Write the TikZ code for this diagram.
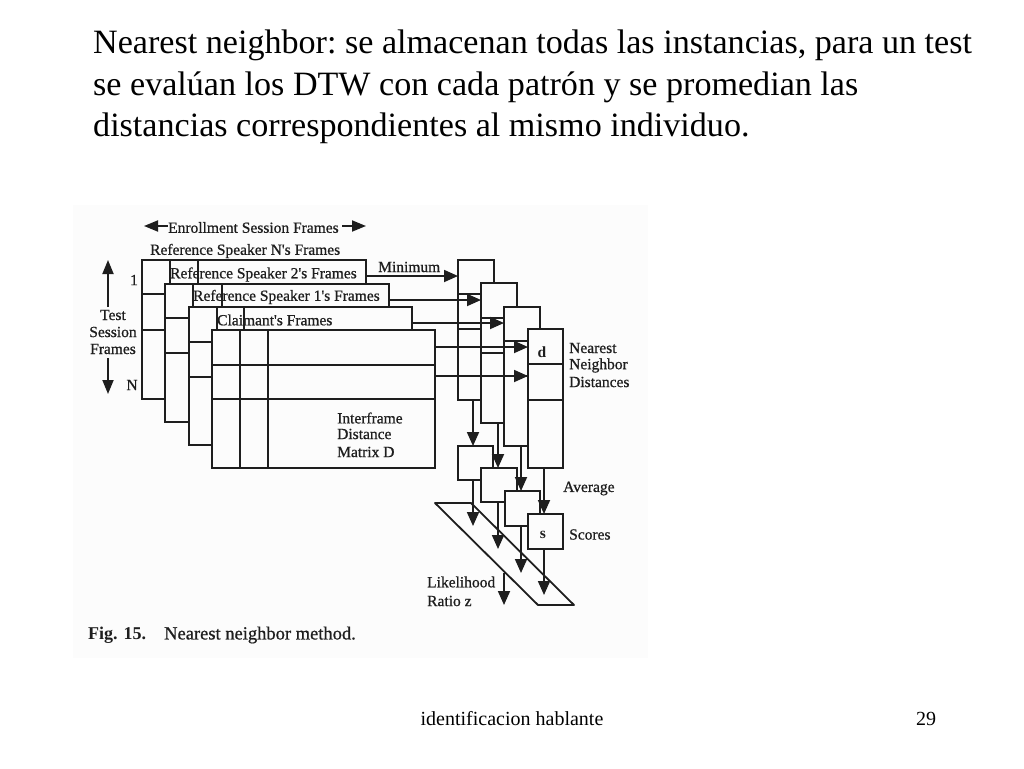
\documentclass[tikz,border=0pt]{standalone}
\usepackage{fontspec}
\setmainfont{Liberation Serif}
\newfontfamily\scanfont[FakeBold=0.8]{Liberation Serif}
\usetikzlibrary{arrows.meta,calc}
\definecolor{ink}{HTML}{1E1E1E}
\definecolor{scan}{HTML}{FCFCFC}
\tikzset{
  ln/.style={draw=ink,line width=1.8pt},
  frame/.style={ln,fill=scan,inner sep=0pt,outer sep=0pt},
  arr/.style={ln,-{Triangle[length=14pt,width=12pt]}},
  bigarr/.style={ln,-{Triangle[length=14pt,width=11pt]}},
  slide/.style={anchor=base west,inner sep=0pt,font=\fontsize{34.1}{34.1}\selectfont\frenchspacing},
  foot/.style={anchor=base,inner sep=0pt,font=\fontsize{20}{20}\selectfont},
  lab/.style={anchor=west,inner sep=0pt,text=ink,font=\fontsize{15.5}{15.5}\scanfont},
  clab/.style={lab,anchor=center},
  blab/.style={clab,font=\fontsize{15.5}{15.5}\bfseries},
}
% name, x1, y1, x2, y2
\newcommand{\mybox}[5]{\node[frame,minimum width={#4pt-#2pt},minimum height={#5pt-#3pt}] (#1) at ({(#2+#4)/2},{(#3+#5)/2}) {};}
\newcommand{\myrows}[2]{\foreach \rowy in {#2} {\draw[ln] (#1.west |- 0,\rowy) -- (#1.east |- 0,\rowy);}}
\begin{document}
\begin{tikzpicture}[x=1pt,y=-1pt]
\useasboundingbox (0,0) rectangle (1024,768);
\fill[white] (0,0) rectangle (1024,768);
\fill[scan] (73,205) rectangle (648,658);

% slide text
\node[slide] (t1) at (93,53) {Nearest neighbor: se almacenan todas las instancias, para un test};
\node[slide] (t2) at (93,95) {se evalúan los DTW con cada patrón y se promedian las};
\node[slide] (t3) at (93,136) {distancias correspondientes al mismo individuo.};
\node[foot] (f1) at (512,725) {identificacion hablante};
\node[foot] (f2) at (926,725) {29};

% matrix stack
\mybox{bN}{142}{260}{366}{399}
\myrows{bN}{294,330}
\draw[ln] (170,260) -- (170,284) (198,260) -- (198,284);
\mybox{bB}{165}{284}{389}{422}
\myrows{bB}{318,353}
\draw[ln] (193,284) -- (193,307) (222,284) -- (222,307);
\mybox{bA}{189}{307}{412}{445}
\myrows{bA}{342,377}
\draw[ln] (217,307) -- (217,330) (244,307) -- (244,330);
\mybox{bC}{212}{330}{435}{468}
\myrows{bC}{365,399}
\draw[ln] (240,330) -- (240,468) (268,330) -- (268,468);

% nearest-neighbour stack
\mybox{sA}{458}{260}{494}{400}
\myrows{sA}{294,329}
\mybox{sB}{481}{283}{517}{423}
\myrows{sB}{318,353}
\mybox{sC}{504}{307}{540}{446}
\myrows{sC}{341,376}
\mybox{sD}{528}{329}{563}{468}
\myrows{sD}{364,400}

% likelihood strip (behind the score boxes and their arrows)
\node[inner sep=0pt] (pTL) at (435,503) {};
\node[inner sep=0pt] (pTR) at (471,503) {};
\node[inner sep=0pt] (pBR) at (574,605) {};
\node[inner sep=0pt] (pBL) at (538,605) {};
\draw[ln,line join=round] (pTL.center) -- (pTR.center) -- (pBR.center) -- (pBL.center) -- cycle;

% score boxes
\mybox{aA}{458}{446}{493}{480}
\mybox{aB}{481}{468}{517}{502}
\mybox{aC}{505}{491}{540}{526}
\mybox{aD}{528}{514}{563}{549}

% horizontal arrows
\coordinate (h1) at (0,276);
\coordinate (h2) at (0,300);
\coordinate (h3) at (0,323);
\coordinate (h4) at (0,347);
\coordinate (h5) at (0,376);
\draw[arr] (bN.east |- h1) -- (sA.west |- h1);
\draw[arr] (bB.east |- h2) -- (sB.west |- h2);
\draw[arr] (bA.east |- h3) -- (sC.west |- h3);
\draw[arr] (bC.east |- h4) -- (sD.west |- h4);
\draw[arr] (bC.east |- h5) -- (sD.west |- h5);

% vertical arrows
\coordinate (v1) at (473,0);
\coordinate (v2) at (498,0);
\coordinate (v3) at (521,0);
\coordinate (v4) at (544,0);
\draw[arr] (v1 |- sA.south) -- (v1 |- aA.north);
\draw[arr] (v2 |- sB.south) -- (v2 |- aB.north);
\draw[arr] (v3 |- sC.south) -- (v3 |- aC.north);
\draw[arr] (v4 |- sD.south) -- (v4 |- aD.north);
\coordinate (e1) at (473,526);
\coordinate (e2) at (498,549);
\coordinate (e3) at (521,573);
\coordinate (e4) at (544,595);
\coordinate (s5) at (504,573);
\coordinate (e5) at (504,605);
\draw[arr] (v1 |- aA.south) -- (e1);
\draw[arr] (v2 |- aB.south) -- (e2);
\draw[arr] (v3 |- aC.south) -- (e3);
\draw[arr] (v4 |- aD.south) -- (e4);
\draw[arr] (s5) -- (e5);

% axis arrows
\coordinate (u0) at (108,307);
\coordinate (u1) at (108,260);
\coordinate (d0) at (108,358);
\coordinate (d1) at (108,394);
\coordinate (l0) at (168,226);
\coordinate (l1) at (144,226);
\coordinate (r0) at (342,226);
\coordinate (r1) at (366,226);
\draw[bigarr] (u0) -- (u1);
\draw[bigarr] (d0) -- (d1);
\draw[bigarr] (l0) -- (l1);
\draw[bigarr] (r0) -- (r1);

% figure labels
\node[lab] (l01) at (168,227.5) {Enrollment Session Frames};
\node[lab] (l02) at (150,251) {Reference Speaker N's Frames};
\node[lab] (l03) at (170,274.5) {Reference Speaker 2's Frames};
\node[lab] (l04) at (193,297) {Reference Speaker 1's Frames};
\node[lab] (l05) at (217,320) {Claimant's Frames};
\node[lab] (l06) at (378,267) {Minimum};
\node[clab] (l07) at (113,315) {Test};
\node[clab] (l08) at (113,332) {Session};
\node[clab] (l09) at (113,349) {Frames};
\node[clab] (l10) at (134,280) {1};
\node[clab] (l11) at (132,385) {N};
\node[lab] (l12) at (337,418) {Interframe};
\node[lab] (l13) at (337,434) {Distance};
\node[lab] (l14) at (337,452) {Matrix D};
\node[lab] (l15) at (569,348) {Nearest};
\node[lab] (l16) at (569,365.5) {Neighbor};
\node[lab] (l17) at (569,382) {Distances};
\node[blab] (l18) at (542,352) {d};
\node[lab] (l19) at (563,488.5) {Average};
\node[blab] (l20) at (543,535) {s};
\node[lab] (l21) at (569,534.5) {Scores};
\node[lab] (l22) at (427,582) {Likelihood};
\node[lab] (l23) at (427,601) {Ratio z};
\node[lab,font=\fontsize{18}{18}\bfseries] (l24) at (88,635) {Fig. 15.};
\node[lab,font=\fontsize{18.5}{18.5}\scanfont] (l25) at (164,635) {Nearest neighbor method.};
\end{tikzpicture}
\end{document}
